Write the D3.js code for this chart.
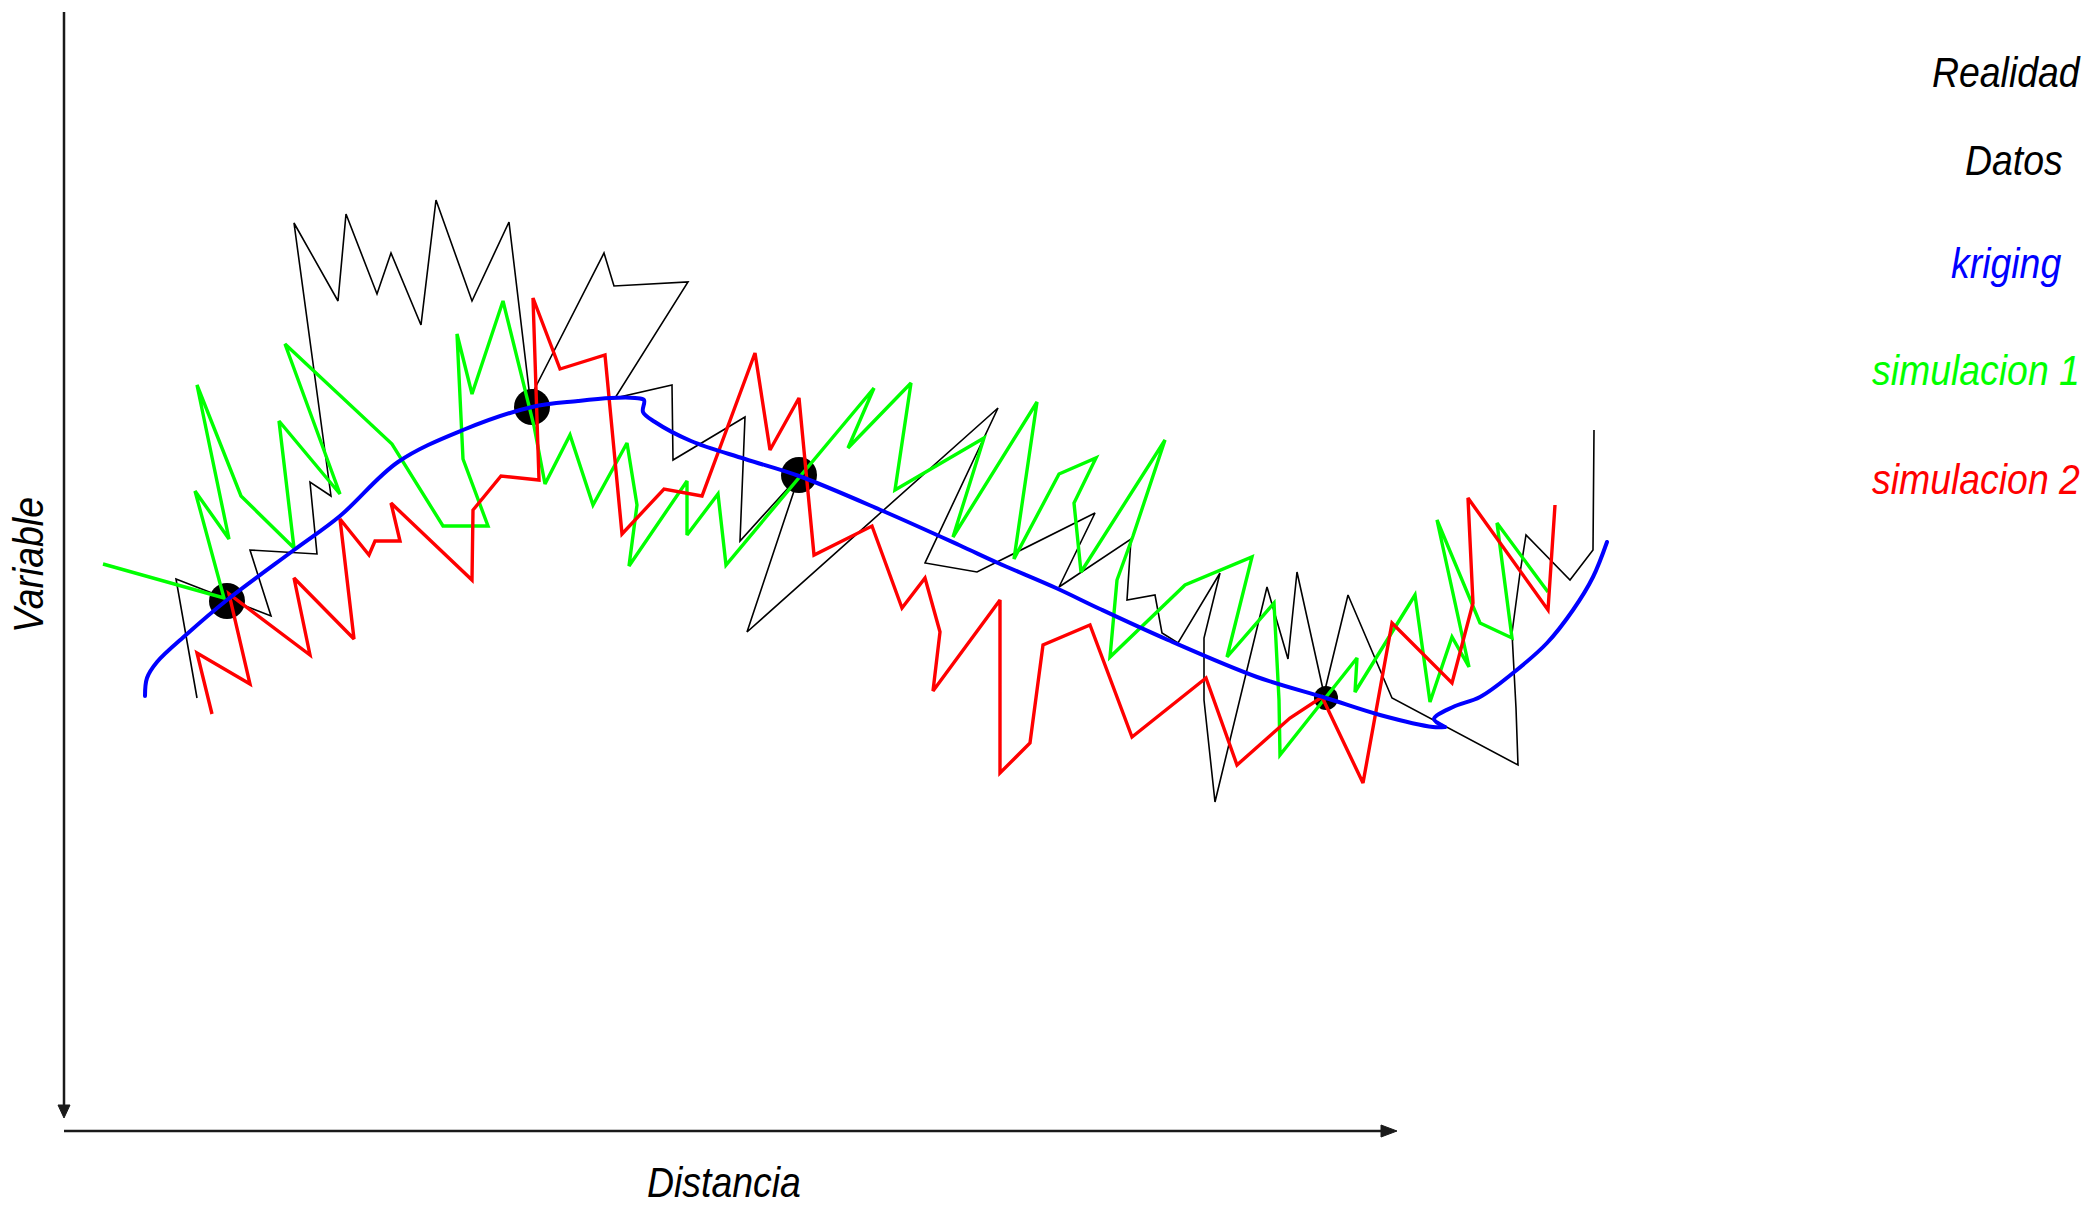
<!DOCTYPE html>
<html>
<head>
<meta charset="utf-8">
<script src="https://cdn.jsdelivr.net/npm/d3@7"></script>
<style>
  html, body { margin: 0; padding: 0; background: #fff; }
  svg { display: block; }
  text { font-family: "Liberation Sans", Arial, Helvetica, sans-serif; font-style: italic; }
</style>
</head>
<body>
<svg id="chart" width="2086" height="1208"></svg>
<script>
// Distancia (x) and Variable (y) in arbitrary units.
const realidad = [[13.3,43.3],[11.2,55.2],[20.7,51.5],[18.6,58.1],[25.3,57.7],[24.6,64.9],[26.7,63.5],[23.0,90.8],[27.4,83.0],[28.2,91.7],[31.3,83.7],[32.7,87.8],[35.7,80.6],[37.2,93.1],[40.8,83.0],[44.5,90.9],[46.6,73.3],[54.0,87.8],[55.0,84.5],[62.4,84.9],[55.1,73.3],[60.8,74.6],[60.9,67.1],[68.1,71.4],[67.6,59.0],[73.5,65.5],[68.3,49.9],[93.4,72.3],[86.1,56.8],[91.3,55.9],[103.1,61.8],[99.5,54.4],[106.7,59.2],[106.3,53.1],[109.1,53.6],[109.8,49.8],[111.4,48.8],[115.6,55.8],[114.0,49.3],[114.0,43.1],[115.1,32.9],[120.3,54.4],[122.4,47.2],[123.3,55.9],[126.0,43.7],[128.4,53.6],[132.8,43.3],[145.4,36.6],[145.2,42.3],[144.8,49.8],[145.6,55.8],[146.2,59.6],[150.6,55.1],[152.9,58.1],[153.0,70.1]];

const datos = [[16.3,53.0],[46.8,72.4],[73.5,65.6],[126.2,43.3]];

const krigingA = [[8.1,43.5],[8.3,45.3],[9.3,46.9],[12.3,49.7],[16.3,53.1],[23.0,58.1],[27.6,61.5],[33.4,66.9],[39.9,70.1],[46.8,72.4],[51.4,73.0],[54.7,73.3],[57.1,73.3],[58.0,73.1],[57.9,71.9],[59.1,70.9],[62.7,69.0],[68.1,67.2],[73.5,65.5],[81.9,62.0],[89.5,58.6],[93.4,56.8],[99.2,54.3],[103.6,52.2],[110.4,49.1],[119.3,45.4],[126.2,43.3],[131.6,41.6],[136.9,40.4],[138.1,40.4]];
const krigingB = [[138.1,40.4],[137.0,41.2],[138.9,42.4],[141.6,43.4],[144.9,45.8],[148.3,48.8],[150.9,52.1],[152.9,55.4],[154.3,58.9]];

const simulacion1 = [[3.9,56.7],[16.0,53.3],[13.1,64.0],[16.5,59.2],[13.3,74.6],[17.7,63.5],[23.0,58.3],[21.5,71.0],[27.6,63.7],[22.1,78.7],[32.8,68.7],[37.9,60.5],[42.4,60.5],[39.9,67.2],[39.3,79.7],[40.8,73.7],[43.9,83.0],[47.0,70.5],[48.1,64.7],[50.6,69.6],[52.9,62.6],[56.3,68.8],[57.3,62.6],[56.5,56.5],[62.3,65.0],[62.3,59.6],[65.4,63.7],[66.2,56.6],[81.0,74.3],[78.4,68.3],[84.7,74.8],[83.1,64.1],[92.0,69.3],[88.9,59.4],[97.3,72.9],[95.0,57.2],[99.5,65.7],[103.2,67.3],[101.0,62.8],[101.7,55.9],[110.1,69.1],[106.9,59.5],[105.3,55.1],[104.6,47.4],[112.1,54.6],[118.8,57.4],[116.3,47.4],[121.0,52.8],[121.5,43.1],[121.6,37.6],[129.3,47.3],[129.1,43.9],[135.1,53.6],[136.6,42.9],[138.8,49.4],[140.5,46.4],[137.3,61.1],[141.6,50.8],[144.8,49.3],[143.3,60.8],[148.4,53.9]];

const simulacion2 = [[14.8,41.7],[13.3,47.8],[18.6,44.7],[16.5,53.7],[24.6,47.6],[23.0,55.3],[29.0,49.2],[27.6,61.2],[30.5,57.6],[31.1,59.0],[33.6,59.0],[32.7,62.8],[40.8,55.1],[40.9,62.1],[43.7,65.5],[47.5,65.1],[46.9,83.3],[49.6,76.2],[54.1,77.6],[55.8,59.7],[60.0,64.2],[63.8,63.5],[69.1,77.8],[70.6,68.1],[73.5,73.3],[75.0,57.6],[80.8,60.5],[83.8,52.3],[86.1,55.3],[87.6,49.9],[86.9,44.0],[93.6,53.1],[93.6,35.8],[96.6,38.8],[97.9,48.6],[102.6,50.6],[106.8,39.4],[114.2,45.3],[117.3,36.6],[122.6,41.3],[125.8,43.4],[129.9,34.8],[132.8,50.8],[138.8,44.8],[140.9,52.8],[140.4,63.3],[148.4,52.1],[149.1,62.6]];

const legendLabels = ["Realidad", "Datos", "kriging", "simulacion 1", "simulacion 2"];
const legendColors = ["#000000", "#000000", "#0000ff", "#00ff00", "#ff0000"];
const xTitle = "Distancia";
const yTitle = "Variable";

const svg = d3.select("#chart");

const x = d3.scaleLinear().domain([0, 133.3]).range([64, 1397]);
const y = d3.scaleLinear().domain([0, 111.9]).range([1131, 12]);

// axes: plain lines with arrowheads, no ticks
const axisG = svg.append("g").attr("stroke", "#1a1a1a").attr("stroke-width", 2.5).attr("fill", "#1a1a1a");
const x0 = x(0), yTop = y(111.9), yBase = y(0);
axisG.append("line").attr("x1", x0).attr("x2", x0).attr("y1", yTop).attr("y2", yBase - 20);
axisG.append("path").attr("stroke-width", 1)
  .attr("d", `M${x0 - 6},${yBase - 26} L${x0 + 6},${yBase - 26} L${x0},${yBase - 13} Z`);
axisG.append("line").attr("x1", x0).attr("x2", x(133.3) - 12).attr("y1", yBase).attr("y2", yBase);
axisG.append("path").attr("stroke-width", 1)
  .attr("d", `M${x(133.3) - 16},${yBase - 6} L${x(133.3) - 16},${yBase + 6} L${x(133.3)},${yBase} Z`);

// axis titles
svg.append("text")
  .attr("transform", `translate(${x(58.3)},${yBase + 66}) scale(0.87,1)`)
  .attr("font-size", 43).attr("fill", "#000").text(xTitle);
svg.append("text")
  .attr("transform", `translate(43,${y(56.6)}) rotate(-90) scale(0.87,1)`)
  .attr("text-anchor", "middle").attr("font-size", 43).attr("fill", "#000").text(yTitle);

// data points
const radius = (d, i) => (i === datos.length - 1 ? 12 : 18);
svg.append("g").selectAll("circle").data(datos).join("circle")
  .attr("cx", d => x(d[0])).attr("cy", d => y(d[1])).attr("r", radius).attr("fill", "#000");

const line = d3.line().x(d => x(d[0])).y(d => y(d[1]));
const smooth = d3.line().x(d => x(d[0])).y(d => y(d[1])).curve(d3.curveCatmullRom.alpha(0.5));

const g = svg.append("g").attr("fill", "none").attr("stroke-linejoin", "miter").attr("stroke-miterlimit", 3);
g.append("path").datum(realidad).attr("d", line).attr("stroke", "#000").attr("stroke-width", 1.6);
g.append("path").datum(simulacion1).attr("d", line).attr("stroke", "#00ff00").attr("stroke-width", 3.4);
g.append("path").datum(simulacion2).attr("d", line).attr("stroke", "#ff0000").attr("stroke-width", 3.4);
[krigingA, krigingB].forEach(seg => {
  g.append("path").datum(seg).attr("d", smooth).attr("stroke", "#0000ff")
    .attr("stroke-width", 4).attr("stroke-linejoin", "round").attr("stroke-linecap", "round");
});

// legend
const legendX = [1932, 1965, 1951, 1872, 1872];
const legendY = [87, 175, 278, 385, 494];
svg.append("g").selectAll("text").data(legendLabels).join("text")
  .attr("transform", (d, i) => `translate(${legendX[i]},${legendY[i]}) scale(0.87,1)`)
  .attr("font-size", 43)
  .attr("fill", (d, i) => legendColors[i])
  .text(d => d);
</script>
</body>
</html>
